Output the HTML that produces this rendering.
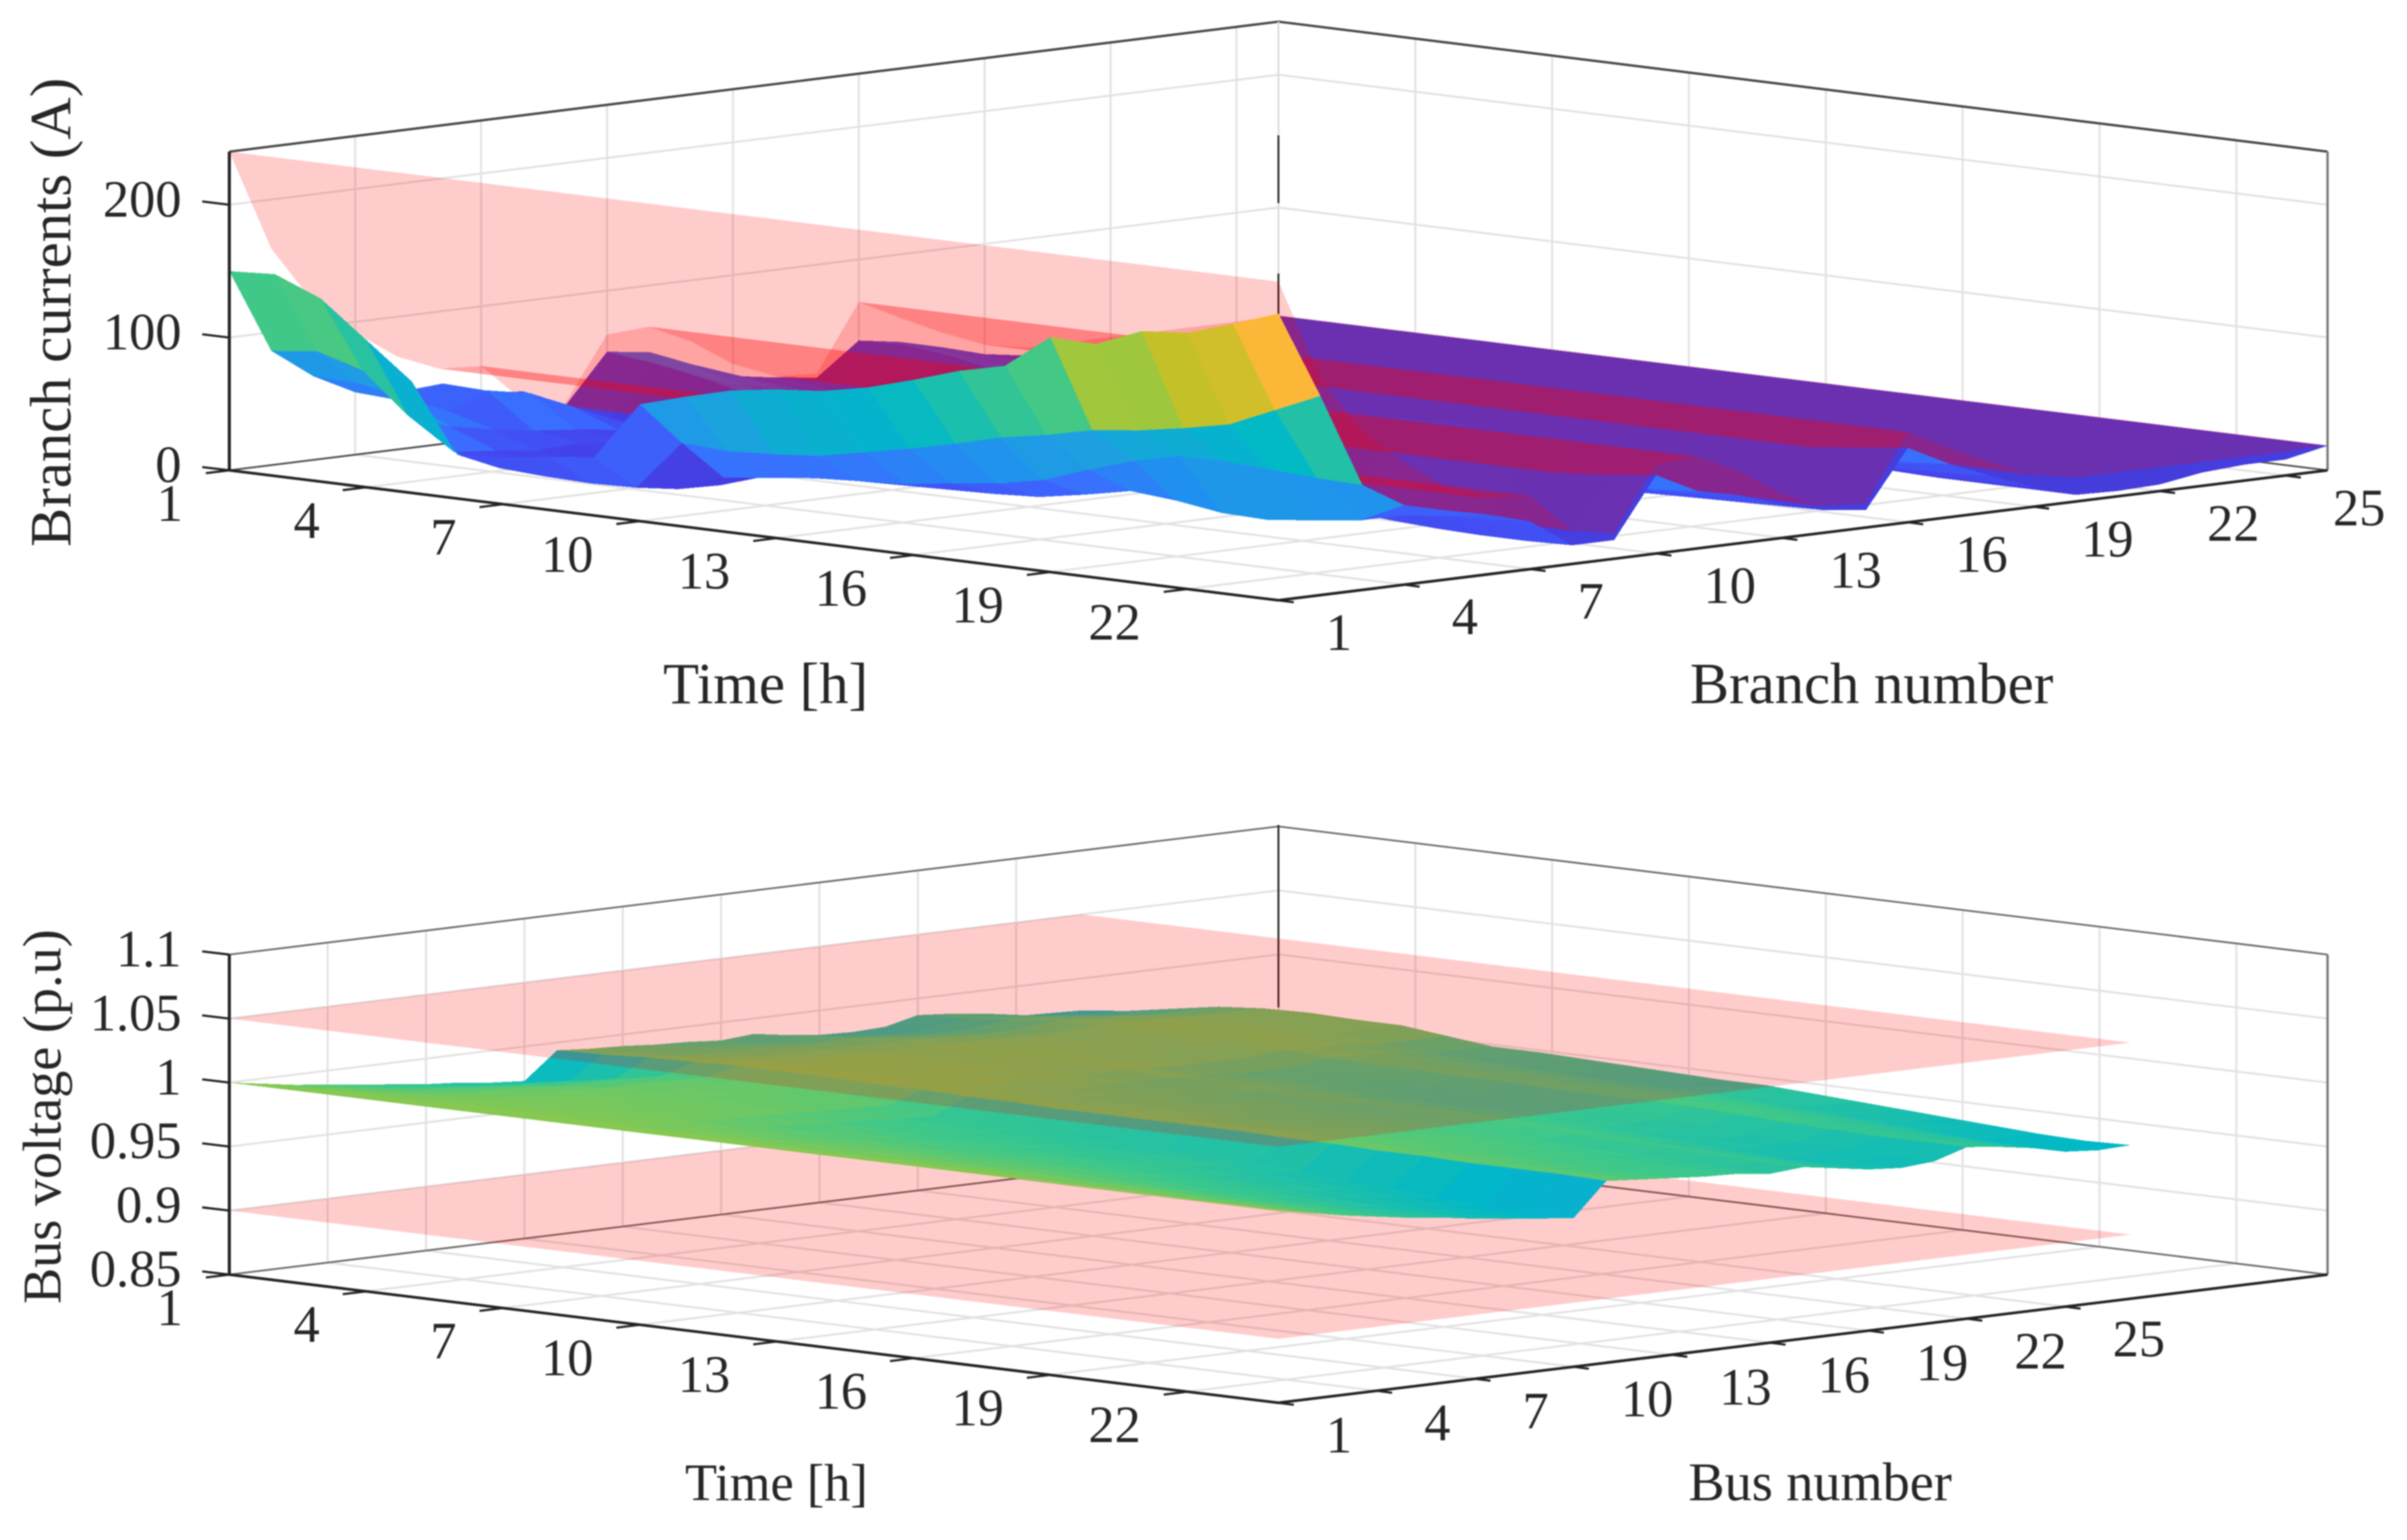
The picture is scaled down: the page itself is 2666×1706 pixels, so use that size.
<!DOCTYPE html>
<html lang="en">
<head>
<meta charset="utf-8">
<title>Branch currents and bus voltages</title>
<style>
html,body{margin:0;padding:0;background:#fff;width:2666px;height:1706px;overflow:hidden}
svg{display:block;filter:blur(0.8px)}
text{font-family:"Liberation Serif","Times New Roman",serif;fill:#262626}
.mark{shape-rendering:crispEdges}
</style>
</head>
<body>
<svg id="figure" xmlns="http://www.w3.org/2000/svg" width="2666" height="1706" viewBox="0 0 2666 1706">
<rect x="0" y="0" width="2666" height="1706" fill="#ffffff"/>
</svg>
<script>
// ---------- chart data ----------
const timeTicks = [1,4,7,10,13,16,19,22];
const branchTicks = [1,4,7,10,13,16,19,22,25];
const busTicks = [1,4,7,10,13,16,19,22,25];
const currentTicks = [0,100,200];
const currentTickLabels = ['0','100','200'];
const voltageTicks = [0.85,0.9,0.95,1,1.05,1.1];
const voltageTickLabels = ['0.85','0.9','0.95','1','1.05','1.1'];
const timeRange = [1,24];
const branchRange = [1,26];
const busRange = [1,33];
const currentRange = [0,240];
const voltageRange = [0.85,1.1];
const currentColorRange = [0,216];
const voltageColorRange = [0.898,1.0284];
const voltageLimits = [0.9,1.05];

// ampacity limit per branch (1..26)
const currentLimit = [240,163,119,92,70,57,55,25,19,67,69,54,33,20,18,68,52,37,24,18,18,18,18,18,18,19];

// branch current [A]: one row per hour (1..24), one column per branch (1..26)
const branchCurrents = [
[150,86,63,47,43,39,35,32,17,54,50,37,24,19,15,39,34,26,17,12,10,10,10,10,10,18.5],
[152,90,62,45,54,45,39,26,12,50,43,33,22,16,13,40,31,24,15,10,9,9,9,9,9,18.5],
[138,80,55,42,52,47,33,19,12,44,34,27,19,13,10,36,27,20,12,7,6,6,7,7,7,18.5],
[111,50,38,32,27,24,20,14,9,36,28,22,15,11,8,29,22,16,10,5,5,5,6,6,6,18.5],
[84,27,24,20,22,19,16,10,7,27,21,17,11,8,6,21,17,12,7,4,4,4,5,5,5,18.5],
[33,19,15,13,17,15,13,8,5,20,16,13,9,6,5,17,13,9,6,3,3,3,4,4,4,18.5],
[35,17,12,10,14,13,11,7,4,17,14,11,8,5,4,14,11,8,5,3,3,3,3,4,3,18.5],
[40,16,10,9,14,13,11,7,4,17,14,11,8,5,4,14,11,8,5,3,3,3,3,4,3,18.5],
[44,17,12,11,17,15,13,8,5,20,16,13,9,6,5,17,13,9,6,3,3,3,4,4,4,18.5],
[88,55,25,22,24,22,18,11,8,29,23,18,13,9,7,24,18,14,8,4,4,4,5,6,6,18.5],
[98,53,29,25,26,24,20,12,8,32,25,20,14,10,8,26,20,15,9,4,4,4,6,6,6,18.5],
[107,55,33,27,29,26,22,13,9,35,28,22,15,11,8,29,22,16,10,5,5,5,6,7,7,18.5],
[112,58,35,28,30,27,22,14,9,36,29,23,16,11,9,30,23,17,10,5,4,5,7,7,7,18.5],
[115,65,37,29,31,28,23,14,10,38,30,24,16,12,9,31,24,18,10,5,5,5,7,7,7,18.5],
[122,72,42,30,33,29,24,15,10,39,31,25,17,12,10,33,25,18,11,5,5,6,7,7,7,18.5],
[132,80,46,32,35,31,26,16,11,42,33,27,18,13,10,35,27,19,12,6,5,6,7,8,8,18.5],
[143,89,53,38,38,34,29,18,12,46,37,30,20,14,11,38,30,21,13,6,6,6,8,9,9,18.5],
[151,95,65,45,41,37,31,19,13,49,39,31,21,15,12,41,31,23,14,7,6,6,8,9,9,18.5],
[177,103,76,42,41,37,31,19,13,49,39,31,21,15,12,41,31,23,14,7,6,6,8,9,9,18.5],
[176,107,84,37,41,37,31,16,13,50,39,31,21,15,12,44,33,23,14,6,5,6,8,10,10,18.5],
[190,113,84,36,39,35,30,14,12,50,37,30,21,15,11,46,34,23,14,5,4,5,8,10,10,18.5],
[193,120,82,40,41,37,31,13,12,52,39,31,22,15,12,48,35,24,14,5,4,5,9,11,11,18.5],
[204,135,80,44,44,40,33,13,13,55,40,33,23,16,12,52,37,25,14,5,4,5,10,11,11,18.5],
[216,150,79,60,52,45,36,14,14,59,43,36,25,17,13,56,40,27,15,5,4,5,10,12,12,18.5]
];

// bus voltage [p.u]: one row per hour (1..24), one column per bus (1..27)
const busVoltages = [
[1,.996,.992,.989,.986,.983,.980,.978,.975,.973,.994,.992,.991,.989,.988,.986,.988,.984,.981,.980,.981,.987,.985,.982,.977,.976,.975],
[1,.997,.994,.991,.988,.986,.983,.982,.979,.978,.995,.993,.992,.991,.990,.988,.989,.987,.984,.983,.984,.989,.987,.985,.981,.980,.979],
[1,.998,.995,.993,.992,.990,.988,.987,.985,.984,.997,.995,.994,.994,.993,.992,.993,.991,.989,.988,.989,.992,.991,.989,.986,.986,.985],
[1,.998,.997,.996,.995,.994,.992,.992,.991,.990,.998,.997,.996,.996,.995,.995,.995,.994,.993,.992,.993,.995,.994,.993,.991,.991,.991],
[1,.999,.998,.997,.997,.996,.995,.995,.994,.994,.999,.998,.998,.998,.997,.997,.997,.996,.996,.995,.996,.997,.997,.996,.995,.995,.994],
[1,.999,.998,.998,.997,.996,.996,.995,.995,.994,.999,.998,.998,.998,.997,.997,.997,.997,.996,.996,.996,.997,.997,.996,.995,.995,.995],
[1,.999,.998,.997,.997,.996,.995,.995,.994,.994,.999,.998,.998,.998,.997,.997,.997,.996,.996,.995,.996,.997,.997,.996,.995,.995,.994],
[1,.999,.998,.997,.996,.996,.995,.994,.994,.993,.998,.998,.998,.997,.997,.996,.997,.996,.995,.995,.995,.997,.996,.995,.994,.994,.994],
[1,.998,.997,.995,.994,.993,.992,.991,.990,.989,.998,.997,.996,.996,.995,.994,.995,.993,.992,.992,.992,.995,.994,.992,.990,.990,.990],
[1,.998,.996,.994,.992,.991,.989,.988,.986,.985,.997,.996,.995,.994,.993,.992,.993,.991,.989,.989,.989,.993,.992,.990,.987,.987,.986],
[1,.998,.995,.993,.992,.990,.988,.987,.985,.984,.997,.995,.994,.994,.993,.992,.993,.991,.989,.988,.989,.992,.991,.989,.986,.986,.986],
[1,.997,.995,.993,.991,.989,.987,.986,.984,.983,.996,.995,.994,.993,.992,.991,.992,.990,.988,.987,.988,.992,.990,.988,.985,.985,.985],
[1,.997,.995,.993,.990,.989,.987,.985,.983,.982,.996,.995,.994,.993,.992,.991,.992,.989,.987,.986,.987,.991,.990,.988,.984,.984,.984],
[1,.997,.995,.992,.990,.988,.986,.984,.982,.981,.996,.994,.993,.992,.991,.990,.991,.989,.986,.986,.986,.991,.989,.987,.983,.983,.983],
[1,.997,.994,.992,.990,.988,.985,.984,.982,.980,.996,.994,.993,.992,.991,.990,.991,.988,.986,.985,.986,.990,.989,.986,.983,.982,.982],
[1,.997,.994,.992,.989,.987,.985,.984,.982,.980,.996,.994,.993,.992,.991,.990,.991,.988,.986,.985,.986,.990,.989,.986,.983,.982,.982],
[1,.997,.994,.991,.989,.986,.984,.982,.980,.979,.995,.994,.992,.991,.990,.989,.990,.987,.985,.984,.985,.990,.988,.985,.981,.981,.980],
[1,.996,.993,.990,.987,.985,.982,.980,.978,.976,.995,.993,.992,.991,.989,.988,.989,.986,.983,.982,.983,.989,.987,.984,.979,.979,.978],
[1,.996,.993,.989,.986,.984,.981,.979,.976,.974,.994,.992,.991,.990,.988,.986,.988,.985,.981,.981,.981,.988,.986,.982,.978,.977,.976],
[1,.996,.992,.988,.985,.982,.979,.977,.974,.972,.994,.992,.990,.989,.987,.985,.987,.983,.980,.979,.980,.986,.984,.981,.976,.975,.974],
[1,.995,.991,.987,.984,.981,.977,.975,.972,.969,.993,.991,.989,.988,.986,.984,.986,.982,.978,.977,.978,.985,.983,.979,.974,.973,.972],
[1,.995,.991,.987,.983,.979,.976,.973,.970,.967,.993,.990,.988,.987,.985,.983,.985,.981,.976,.976,.976,.984,.982,.978,.972,.971,.970],
[1,.995,.990,.986,.982,.979,.975,.972,.969,.966,.993,.990,.988,.987,.985,.982,.984,.980,.976,.975,.976,.984,.981,.977,.971,.970,.969],
[1,.995,.990,.986,.982,.979,.975,.972,.969,.966,.992,.990,.988,.986,.985,.982,.984,.980,.976,.974,.976,.984,.981,.977,.971,.969,.970]
];

// ---------- presentation ----------
const SVGNS = 'http://www.w3.org/2000/svg';
const root = document.getElementById('figure');
const colormap = [[0,[69,59,217]],[.07,[69,62,225]],[.115,[68,70,240]],[.185,[63,88,248]],[.23,[58,108,255]],[.35,[32,144,240]],[.44,[30,160,224]],[.55,[0,184,200]],[.694,[64,200,136]],[.81,[156,200,64]],[.88,[196,192,40]],[.944,[251,184,56]],[1,[251,184,56]]];

function colorOf(value, range){
  const v = Math.max(0, Math.min(1, (value - range[0]) / (range[1] - range[0])));
  for (let i = 1; i < colormap.length; i++) {
    if (v <= colormap[i][0]) {
      const a = colormap[i-1], b = colormap[i];
      const f = (v - a[0]) / (b[0] - a[0]);
      return 'rgb(' + a[1].map((c, k) => Math.round(c + (b[1][k] - c) * f)).join(',') + ')';
    }
  }
  return 'rgb(251,184,56)';
}

function makeProjector(panel, xRange, yRange, zRange){
  return function(t, b, z){
    const tn = (t - xRange[0]) / (xRange[1] - xRange[0]);
    const bn = (b - yRange[0]) / (yRange[1] - yRange[0]);
    const zn = (z - zRange[0]) / (zRange[1] - zRange[0]);
    return [panel.x + panel.dx * tn + panel.dx * bn,
            panel.y + panel.dy * tn - panel.dy * bn - panel.h * zn];
  };
}

function addLine(parent, name, p, q, stroke, width){
  const el = document.createElementNS(SVGNS, 'line');
  
  
  el.setAttribute('x1', p[0].toFixed(1));
  el.setAttribute('y1', p[1].toFixed(1));
  el.setAttribute('x2', q[0].toFixed(1));
  el.setAttribute('y2', q[1].toFixed(1));
  el.setAttribute('stroke', stroke);
  el.setAttribute('stroke-width', width);
  parent.appendChild(el);
}

function addText(parent, name, str, x, y, size, anchor, rotate){
  const el = document.createElementNS(SVGNS, 'text');
  
  
  el.setAttribute('x', x);
  el.setAttribute('y', y);
  el.setAttribute('font-size', size);
  el.setAttribute('text-anchor', anchor);
  if (rotate) el.setAttribute('transform', 'rotate(-90 ' + x + ' ' + y + ')');
  el.textContent = str;
  parent.appendChild(el);
}

function addQuad(parent, name, pts, fill, opacity){
  const el = document.createElementNS(SVGNS, 'polygon');
  
  
  el.setAttribute('class', 'mark');
  el.setAttribute('points', pts.map(p => p[0].toFixed(1) + ',' + p[1].toFixed(1)).join(' '));
  el.setAttribute('fill', fill);
  if (opacity < 1) el.setAttribute('fill-opacity', opacity);
  parent.appendChild(el);
}

function addGroup(name){
  const g = document.createElementNS(SVGNS, 'g');
  
  
  root.appendChild(g);
  return g;
}

function drawFrame(g, P, o){
  const t0 = timeRange[0], t1 = timeRange[1], b0 = o.yRange[0], b1 = o.yRange[1], z0 = o.zRange[0], z1 = o.zRange[1];
  const gridColor = '#e2e2e2';
  // floor, left wall and right wall grids
  o.yTicks.forEach(b => {
    addLine(g, 'floor-grid-line', P(t0,b,z0), P(t1,b,z0), gridColor, 2.2);
    addLine(g, 'left-wall-grid-line', P(t0,b,z0), P(t0,b,z1), gridColor, 2.2);
  });
  timeTicks.forEach(t => {
    addLine(g, 'floor-grid-line', P(t,b0,z0), P(t,b1,z0), gridColor, 2.2);
    addLine(g, 'right-wall-grid-line', P(t,b1,z0), P(t,b1,z1), gridColor, 2.2);
  });
  o.zTicks.forEach(z => {
    addLine(g, 'left-wall-grid-line', P(t0,b0,z), P(t0,b1,z), gridColor, 2.2);
    addLine(g, 'right-wall-grid-line', P(t0,b1,z), P(t1,b1,z), gridColor, 2.2);
  });
  // box edges
  addLine(g, 'back-floor-edge-left', P(t0,b0,z0), P(t0,b1,z0), o.edge, 1.8);
  addLine(g, 'back-floor-edge-right', P(t0,b1,z0), P(t1,b1,z0), o.edge, 1.8);
  addLine(g, 'top-edge-left', P(t0,b0,z1), P(t0,b1,z1), o.edge, o.topWidth);
  addLine(g, 'top-edge-right', P(t0,b1,z1), P(t1,b1,z1), o.edge, o.topWidth);
  addLine(g, 'right-box-edge', P(t1,b1,z0), P(t1,b1,z1), '#777777', 2.6);
  addLine(g, 'back-corner-edge', P(t0,b1,z0), P(t0,b1,z1), '#dddddd', 2);
  o.corner.forEach(s => addLine(g, 'back-corner-segment', [P(t0,b1,z0)[0], s[0]], [P(t0,b1,z0)[0], s[1]], '#222222', 2));
}

function drawAxes(g, P, o){
  const t0 = timeRange[0], t1 = timeRange[1], b0 = o.yRange[0], b1 = o.yRange[1], z0 = o.zRange[0], z1 = o.zRange[1];
  addLine(g, 'time-axis-line', P(t0,b0,z0), P(t1,b0,z0), '#222222', 3);
  addLine(g, o.yName + '-axis-line', P(t1,b0,z0), P(t1,b1,z0), '#222222', 3);
  addLine(g, 'z-axis-line', P(t0,b0,z0), P(t0,b0,z1), '#222222', 3.4);
  timeTicks.forEach(t => {
    const a = P(t,b0,z0);
    addLine(g, 'time-tick', a, [a[0]-26, a[1]+3.2], '#222222', 2.4);
    addText(g, 'time-tick-label', String(t), a[0]-51.5, a[1]+56, 58, 'end', false);
  });
  o.yTicks.forEach(b => {
    const a = P(t1,b,z0);
    addLine(g, o.yName + '-tick', a, [a[0]+17, a[1]+2.2], '#222222', 2.4);
    addText(g, o.yName + '-tick-label', String(b), a[0]+52.5, a[1]+55, 58, 'start', false);
  });
  o.zTicks.forEach((z, i) => {
    const a = P(t0,b0,z);
    addLine(g, 'z-tick', a, [a[0]-30, a[1]-3.6], '#222222', 2.4);
    addText(g, 'z-tick-label', o.zLabels[i], 201, a[1]+13, 58, 'end', false);
  });
}

// ---------- top panel: branch currents ----------
const topPanel = {x:254, y:521, dx:1162, dy:144, h:353};
const topP = makeProjector(topPanel, timeRange, branchRange, currentRange);
const topGroup = addGroup('branch-currents-chart');
drawFrame(topGroup, topP, {yRange:branchRange, zRange:currentRange, yTicks:branchTicks, zTicks:currentTicks, edge:'#444444', topWidth:2.6, corner:[[150,225],[303,348]]});

const topMarks = addGroup('branch-current-surfaces');
for (let b = branchRange[1] - 2; b >= 0; b--) {
  for (let t = 0; t < branchCurrents.length - 1; t++) {
    const row0 = branchCurrents[t], row1 = branchCurrents[t+1];
    const zc = (row0[b] + row0[b+1] + row1[b] + row1[b+1]) / 4;
    const lc = (currentLimit[b] + currentLimit[b+1]) / 2;
    const slope = (currentLimit[b+1] - currentLimit[b]) / (currentRange[1] - currentRange[0]) * (branchRange[1] - branchRange[0]);
    const viewerAbove = slope + 0.816 > 0;
    const surfaceAbove = zc > lc;
    const surfacePts = [topP(t+1,b+1,row0[b]), topP(t+2,b+1,row1[b]), topP(t+2,b+2,row1[b+1]), topP(t+1,b+2,row0[b+1])];
    const limitPts = [topP(t+1,b+1,currentLimit[b]), topP(t+2,b+1,currentLimit[b]), topP(t+2,b+2,currentLimit[b+1]), topP(t+1,b+2,currentLimit[b+1])];
    if (viewerAbove === surfaceAbove) {
      addQuad(topMarks, 'current-limit-cell', limitPts, '#ff0000', 0.2);
      addQuad(topMarks, 'current-surface-cell', surfacePts, colorOf(row0[b], currentColorRange), 1);
    } else {
      addQuad(topMarks, 'current-surface-cell', surfacePts, colorOf(row0[b], currentColorRange), 1);
      addQuad(topMarks, 'current-limit-cell', limitPts, '#ff0000', 0.2);
    }
  }
}
const topAxes = addGroup('branch-currents-axes');
drawAxes(topAxes, topP, {yName:'branch', yRange:branchRange, zRange:currentRange, yTicks:branchTicks, zTicks:currentTicks, zLabels:currentTickLabels});
addText(topAxes, 'x-axis-title', 'Time [h]', 848, 779, 65, 'middle', false);
addText(topAxes, 'y-axis-title', 'Branch number', 2073, 779, 65, 'middle', false);
addText(topAxes, 'z-axis-title', 'Branch currents (A)', 78, 346, 65, 'middle', true);

// ---------- bottom panel: bus voltages ----------
const bottomPanel = {x:254, y:1412, dx:1162, dy:142, h:354.5};
const botP = makeProjector(bottomPanel, timeRange, busRange, voltageRange);
const botGroup = addGroup('bus-voltages-chart');
drawFrame(botGroup, botP, {yRange:busRange, zRange:voltageRange, yTicks:busTicks, zTicks:voltageTicks, edge:'#666666', topWidth:1.8, corner:[[914,1116]]});

const botMarks = addGroup('bus-voltage-surfaces');
const busCount = busVoltages[0].length;
const hourCount = busVoltages.length;
function limitPlane(z, name){
  addQuad(botMarks, name, [botP(1,1,z), botP(hourCount,1,z), botP(hourCount,busCount,z), botP(1,busCount,z)], '#ff0000', 0.2);
}
limitPlane(voltageLimits[0], 'voltage-lower-limit-plane');
for (let b = busCount - 2; b >= 0; b--) {
  for (let t = 0; t < hourCount - 1; t++) {
    const row0 = busVoltages[t], row1 = busVoltages[t+1];
    addQuad(botMarks, 'voltage-surface-cell', [botP(t+1,b+1,row0[b]), botP(t+2,b+1,row1[b]), botP(t+2,b+2,row1[b+1]), botP(t+1,b+2,row0[b+1])], colorOf(row0[b], voltageColorRange), 1);
  }
}
limitPlane(voltageLimits[1], 'voltage-upper-limit-plane');

const botAxes = addGroup('bus-voltages-axes');
drawAxes(botAxes, botP, {yName:'bus', yRange:busRange, zRange:voltageRange, yTicks:busTicks, zTicks:voltageTicks, zLabels:voltageTickLabels});
addText(botAxes, 'x-axis-title', 'Time [h]', 860, 1662, 58, 'middle', false);
addText(botAxes, 'y-axis-title', 'Bus number', 2016, 1662, 60, 'middle', false);
addText(botAxes, 'z-axis-title', 'Bus voltage (p.u)', 67, 1237, 60, 'middle', true);
</script>
</body>
</html>
